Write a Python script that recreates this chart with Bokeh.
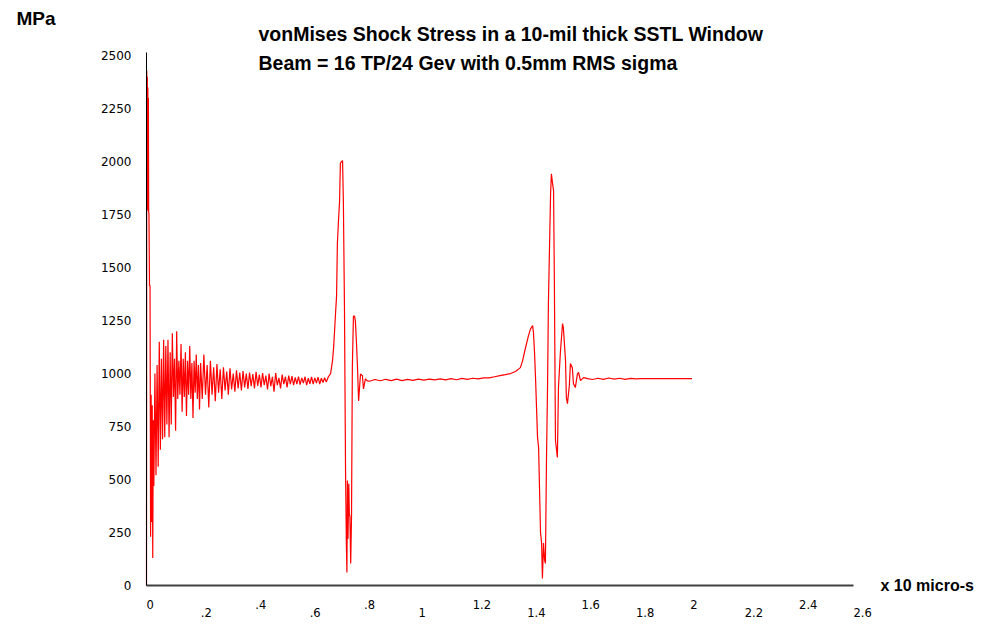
from bokeh.plotting import figure
from bokeh.models import Range1d, FixedTicker, Label, LinearAxis
from bokeh.embed import file_html
from bokeh.resources import INLINE

# ---------------- data (time in units of 10 micro-s, stress in MPa) ----------------
spike_t = [0.000, 0.001, 0.002, 0.003, 0.004, 0.005, 0.006, 0.007, 0.008, 0.009,
           0.011, 0.013, 0.015, 0.017, 0.019, 0.021, 0.023, 0.025]
spike_y = [0, 2430, 1780, 2400, 1770, 2350, 1790, 2300, 1760, 1760,
           1415, 1415, 230, 900, 300, 850, 130, 780]

ring1_t = [0.027, 0.031, 0.035, 0.039, 0.043, 0.047, 0.051, 0.055, 0.059, 0.063,
           0.067, 0.071, 0.075, 0.079, 0.083, 0.087, 0.091, 0.095, 0.099, 0.103,
           0.107, 0.111, 0.115, 0.119, 0.123, 0.127, 0.131, 0.135, 0.139, 0.143,
           0.147, 0.151, 0.155, 0.159, 0.163, 0.167, 0.171, 0.175, 0.179, 0.183,
           0.187, 0.191, 0.195, 0.199]
ring1_y = [470, 1000, 520, 1040, 560, 1150, 640, 1070, 690, 1160,
           700, 1130, 760, 1160, 700, 1100, 760, 1190, 890, 1070,
           730, 1200, 880, 1060, 900, 1140, 820, 1070, 890, 1100,
           800, 1060, 900, 1130, 880, 1050, 790, 1060, 910, 1090,
           880, 1040, 830, 1050]

ring2_t = [0.205, 0.211, 0.217, 0.223, 0.229, 0.235, 0.241, 0.247, 0.253, 0.259,
           0.265, 0.271, 0.277, 0.283, 0.289, 0.295, 0.301, 0.307, 0.313, 0.319,
           0.325, 0.331, 0.337, 0.343, 0.349, 0.355, 0.361, 0.367, 0.373, 0.379,
           0.385, 0.391, 0.397, 0.403, 0.409, 0.415, 0.421, 0.427, 0.433, 0.439,
           0.445, 0.451, 0.457, 0.463, 0.469, 0.475, 0.481, 0.487, 0.493, 0.499,
           0.505, 0.511, 0.517, 0.523, 0.529, 0.535, 0.541, 0.547, 0.553, 0.559,
           0.565, 0.571, 0.577, 0.583, 0.589, 0.595, 0.601, 0.607, 0.613, 0.619,
           0.625, 0.631, 0.637, 0.643, 0.649, 0.655, 0.661]
ring2_y = [880, 1090, 900, 1040, 840, 1060, 900, 1030, 870, 1045,
           910, 1020, 880, 1030, 920, 1010, 900, 1025, 925, 1000,
           915, 1015, 930, 1005, 920, 1012, 935, 1000, 928, 1005,
           940, 998, 930, 1008, 942, 995, 935, 1002, 945, 990,
           925, 1000, 940, 985, 915, 1003, 945, 980, 930, 995,
           950, 985, 935, 990, 950, 988, 945, 982, 950, 986,
           948, 980, 955, 985, 945, 978, 952, 984, 950, 980,
           955, 983, 950, 978, 958, 980, 960]

pulse1_t = [0.669, 0.677, 0.684, 0.688, 0.691, 0.695, 0.699, 0.702, 0.706, 0.710,
            0.713, 0.717, 0.721, 0.724, 0.728, 0.732, 0.735, 0.737, 0.739, 0.741,
            0.744, 0.746, 0.748, 0.751, 0.754, 0.757, 0.761, 0.765, 0.768, 0.772,
            0.776, 0.780, 0.787, 0.794, 0.798, 0.805, 0.813]
pulse1_y = [985, 1000, 1060, 1120, 1187, 1280, 1366, 1615, 1720, 1813,
            1992, 2000, 2005, 1813, 1318, 541, 200, 61, 495, 220,
            480, 330, 330, 104, 330, 1027, 1271, 1271, 1250, 1150,
            1027, 871, 998, 990, 928, 975, 965]

plateau_t = [0.82, 0.84, 0.86, 0.88, 0.90, 0.92, 0.94, 0.96, 0.98, 1.00,
             1.02, 1.04, 1.06, 1.08, 1.10, 1.12, 1.14, 1.16, 1.18, 1.20,
             1.22, 1.24, 1.26, 1.28, 1.30, 1.32]
plateau_y = [964, 972, 966, 973, 967, 974, 967, 973, 968, 974,
             969, 974, 970, 975, 970, 976, 971, 977, 973, 978,
             975, 980, 980, 985, 990, 995]

pulse2_t = [1.339, 1.357, 1.375, 1.383, 1.394, 1.405, 1.412, 1.420, 1.423, 1.427,
            1.431, 1.438, 1.442, 1.449, 1.453, 1.456, 1.460, 1.464, 1.467, 1.471,
            1.475, 1.478, 1.486, 1.489, 1.493, 1.497, 1.500, 1.504, 1.511, 1.515,
            1.522, 1.530, 1.533, 1.541, 1.544, 1.548, 1.555, 1.559, 1.566, 1.570,
            1.577, 1.585, 1.589, 1.596, 1.607, 1.622]
pulse2_y = [1000, 1010, 1028, 1060, 1123, 1180, 1210, 1226, 1195, 1100,
            967, 700, 650, 250, 200, 33, 200, 120, 104, 600,
            953, 1330, 1849, 1943, 1900, 1863, 1424, 684, 604, 934,
            1099, 1236, 1217, 1061, 887, 858, 943, 1047, 1028, 953,
            934, 1000, 1005, 967, 981, 976]

tail_t = [1.64, 1.66, 1.68, 1.70, 1.72, 1.74, 1.76, 1.78, 1.80, 1.82, 2.006]
tail_y = [972, 978, 973, 979, 974, 978, 973, 977, 975, 976, 976]

x_ticks = [0, 0.2, 0.4, 0.6, 0.8, 1.0, 1.2, 1.4, 1.6, 1.8, 2.0, 2.2, 2.4, 2.6]
x_tick_labels = ["0", ".2", ".4", ".6", ".8", "1", "1.2", "1.4", "1.6", "1.8",
                 "2", "2.2", "2.4", "2.6"]
y_ticks = [0, 250, 500, 750, 1000, 1250, 1500, 1750, 2000, 2250, 2500]
y_tick_labels = ["0", "250", "500", "750", "1000", "1250", "1500", "1750",
                 "2000", "2250", "2500"]

title_lines = ["vonMises Shock Stress in a 10-mil thick SSTL Window",
               "Beam = 16 TP/24 Gev with 0.5mm RMS sigma"]
y_unit = "MPa"
x_unit = "x 10 micro-s"

# ---------------- layout (pixels) ----------------
W, H = 976, 618
AX_LEFT, AX_RIGHT = 146, 853      # pixel columns of x = 0 and x = 2.6
AX_BOTTOM, AX_TOP = 585, 52       # pixel rows of y = 0 and y = 2515
X_MAX, Y_MAX = 2.6, 2515

kx = X_MAX / (AX_RIGHT - AX_LEFT)
ky = Y_MAX / (AX_BOTTOM - AX_TOP)
x_range = Range1d(-AX_LEFT * kx, (W - AX_LEFT) * kx)
y_range = Range1d(-(H - AX_BOTTOM) * ky, AX_BOTTOM * ky)

t = spike_t + ring1_t + ring2_t + pulse1_t + plateau_t + pulse2_t + tail_t
s = spike_y + ring1_y + ring2_y + pulse1_y + plateau_y + pulse2_y + tail_y

p = figure(width=W, height=H, output_backend="svg", toolbar_location=None,
           x_range=x_range, y_range=y_range, min_border=0)
p.title.visible = False
p.grid.visible = False
p.outline_line_color = None
p.background_fill_color = "white"
p.border_fill_color = "white"

p.line(t, s, line_color="#ff0000", line_width=1.2)

TICK_FONT = "DejaVu Sans"
NB = "\u00a0"


def left_pad(lab):
    # DejaVu Sans: a digit is two space-widths, "." is one; pad so the centred
    # label starts at its tick like the reference
    return NB * sum(2 if c.isdigit() else 1 for c in lab) + lab


def style_x(ax, standoff):
    ax.fixed_location = 0
    ax.bounds = (0, X_MAX)
    ax.major_tick_line_color = None
    ax.minor_tick_line_color = None
    ax.major_tick_out = 0
    ax.major_tick_in = 0
    ax.major_label_standoff = standoff
    ax.major_label_text_font = TICK_FONT
    ax.major_label_text_font_size = "11.5px"
    ax.major_label_text_color = "black"


# upper row of x labels (0, .4, .8, ...) on the main axis
xa = p.xaxis[0]
style_x(xa, 12)
xa.ticker = FixedTicker(ticks=x_ticks[0::2])
xa.major_label_overrides = {v: left_pad(lab) for v, lab in
                            zip(x_ticks[0::2], x_tick_labels[0::2])}
xa.axis_line_color = "#404040"
xa.axis_line_width = 2

# lower row of x labels (.2, .6, 1, ...) on a second, line-less axis
xb = LinearAxis()
style_x(xb, 20)
xb.ticker = FixedTicker(ticks=x_ticks[1::2])
xb.major_label_overrides = {v: left_pad(lab) for v, lab in
                            zip(x_ticks[1::2], x_tick_labels[1::2])}
xb.axis_line_color = None
p.add_layout(xb, "below")

ya = p.yaxis[0]
ya.fixed_location = 0
ya.bounds = (0, Y_MAX)
ya.ticker = FixedTicker(ticks=y_ticks)
ya.major_label_overrides = {v: lab for v, lab in zip(y_ticks, y_tick_labels)}
ya.axis_line_color = "black"
ya.axis_line_width = 1
ya.major_tick_line_color = None
ya.minor_tick_line_color = None
ya.major_tick_out = 0
ya.major_tick_in = 0
ya.major_label_standoff = 15
ya.major_label_text_font = TICK_FONT
ya.major_label_text_font_size = "12px"
ya.major_label_text_color = "black"

BOLD_FONT = "Liberation Sans"


def add_text(text, px, py, size):
    p.add_layout(Label(x=px, y=H - py, x_units="screen", y_units="screen", text=text,
                       text_font=BOLD_FONT, text_font_style="bold",
                       text_font_size=size, text_baseline="middle",
                       text_align="left", text_color="black"))


add_text(title_lines[0], 258, 33, "19.5px")
add_text(title_lines[1], 258, 62, "19.5px")
add_text(y_unit, 16, 18, "19px")
add_text(x_unit, 880, 585, "16px")

open("out.html", "w").write(file_html(p, INLINE))
